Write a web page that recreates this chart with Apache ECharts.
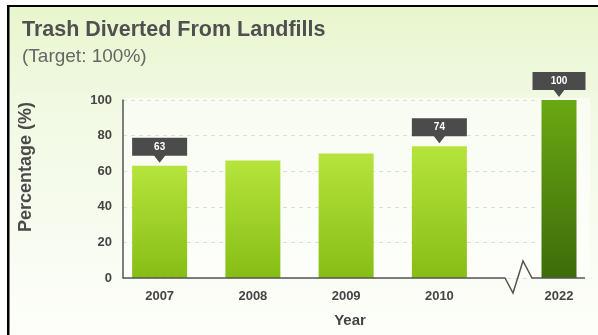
<!DOCTYPE html>
<html>
<head>
<meta charset="utf-8">
<script src="https://cdn.jsdelivr.net/npm/echarts@6/dist/echarts.min.js"></script>
<style>
  html, body { margin: 0; padding: 0; background: #ffffff; }
  #chart { width: 598px; height: 335px; }
</style>
</head>
<body>
<div id="chart"></div>
<script>
// Recorded years and their diversion rates (%)
const recordedYears = ['2007', '2008', '2009', '2010'];
const recordedValues = [63, 66, 70, 74];
// Target year shown after the axis break
const targetYears = ['2022'];
const targetValues = [100];
// Years that carry a value callout
const calloutYears = ['2007', '2010', '2022'];
// Value axis ticks
const yMin = 0, yMax = 100, yStep = 20;

const FONT = '"Liberation Sans", Arial, sans-serif';
const TOP = 100, H = 178;            // plot band, shared by every grid
const AXIS_X = 123, AXIS_Y = TOP + H; // origin of the drawn axes

const labelStyle = { color: '#454545', fontWeight: 'bold', fontSize: 13, fontFamily: FONT };

const recordedFill = new echarts.graphic.LinearGradient(0, 0, 0, 1, [
  { offset: 0, color: '#b6e43c' }, { offset: 1, color: '#86be16' }
]);
const targetFill = new echarts.graphic.LinearGradient(0, 0, 0, 1, [
  { offset: 0, color: '#6aa813' }, { offset: 1, color: '#3d6b0a' }
]);

// Callout: dark box with a small pointer underneath
const calloutPath = 'path://M0,0H55V18H33L27.5,25L22,18H0Z';
function callouts(cats, vals, width) {
  return cats.map((c, i) => ({ c, v: vals[i] }))
    .filter(d => calloutYears.includes(d.c))
    .map(d => ({
      coord: [d.c, d.v],
      value: d.v,
      symbol: calloutPath,
      symbolSize: [width, 25],
      symbolOffset: [0, -15.5],
      itemStyle: { color: '#4b4b4b' },
      label: {
        show: true, position: 'inside', offset: [0, -3.5],
        color: '#ffffff', fontSize: 10, fontWeight: 'bold', fontFamily: FONT,
        formatter: '{c}'
      }
    }));
}

const chart = echarts.init(document.getElementById('chart'), null, { renderer: 'canvas' });

chart.setOption({
  animation: false,
  backgroundColor: '#ffffff',
  title: [
    { text: 'Trash Diverted From Landfills', left: 17, top: 14,
      textStyle: { color: '#505050', fontSize: 21.5, fontWeight: 'bold', fontFamily: FONT } },
    { text: '(Target: 100%)', left: 17, top: 42,
      textStyle: { color: '#666666', fontSize: 19, fontWeight: 'normal', fontFamily: FONT } }
  ],
  graphic: [
    // panel background
    { type: 'rect', z: -10, shape: { x: 9, y: 7, width: 589, height: 328 },
      style: { fill: new echarts.graphic.LinearGradient(0, 0, 0, 1, [
        { offset: 0, color: '#e8f6cd' }, { offset: 0.3, color: '#f1f9e3' }, { offset: 1, color: '#fdfefa' }
      ]) } },
    // lighter plot area
    { type: 'rect', z: -9, shape: { x: AXIS_X, y: TOP - 2, width: 467, height: H + 2 },
      style: { fill: 'rgba(255,255,255,0.55)' } },
    // frame edges
    { type: 'rect', z: 10, shape: { x: 7, y: 5, width: 591, height: 2 }, style: { fill: '#000000' } },
    { type: 'rect', z: 10, shape: { x: 7, y: 5, width: 2.5, height: 330 }, style: { fill: '#000000' } },
    // category axis with a break before the target year
    { type: 'polyline', z: 5,
      shape: { points: [[AXIS_X, AXIS_Y], [505, AXIS_Y], [513, AXIS_Y + 15], [523, AXIS_Y - 17], [532, AXIS_Y], [585, AXIS_Y]] },
      style: { stroke: '#555555', lineWidth: 1.5, fill: null } },
    // axis titles
    { type: 'text', z: 5, x: 26, y: 167, rotation: Math.PI / 2,
      style: { text: 'Percentage (%)', fill: '#4a4a4a', font: 'bold 18px ' + FONT,
        textAlign: 'center', textVerticalAlign: 'middle' } },
    { type: 'text', z: 5, x: 350, y: 321,
      style: { text: 'Year', fill: '#454545', font: 'bold 15px ' + FONT,
        textAlign: 'center', textVerticalAlign: 'middle' } }
  ],
  grid: [
    { left: AXIS_X, top: TOP, width: 412, height: H },   // value axis + gridlines
    { left: 113, top: TOP, width: 373, height: H },      // recorded years
    { left: 540, top: TOP, width: 38, height: H }        // target year
  ],
  xAxis: [
    { gridIndex: 0, type: 'value', show: false, min: 0, max: 1 },
    { gridIndex: 1, type: 'category', data: recordedYears,
      axisLine: { show: false }, axisTick: { show: false },
      axisLabel: Object.assign({ margin: 12 }, labelStyle) },
    { gridIndex: 2, type: 'category', data: targetYears,
      axisLine: { show: false }, axisTick: { show: false },
      axisLabel: Object.assign({ margin: 12 }, labelStyle) }
  ],
  yAxis: [
    { gridIndex: 0, type: 'value', min: yMin, max: yMax, interval: yStep,
      axisLine: { show: true, lineStyle: { color: '#555555', width: 1.5 } },
      axisTick: { show: false },
      axisLabel: Object.assign({ margin: 11 }, labelStyle),
      splitLine: { show: true, lineStyle: { color: '#dbe3cf', type: [4, 4], width: 1 } } },
    { gridIndex: 1, type: 'value', min: yMin, max: yMax, show: false },
    { gridIndex: 2, type: 'value', min: yMin, max: yMax, show: false }
  ],
  series: [
    { type: 'bar', xAxisIndex: 1, yAxisIndex: 1, data: recordedValues, barWidth: 55,
      itemStyle: { color: recordedFill },
      markPoint: { silent: true, data: callouts(recordedYears, recordedValues, 55) } },
    { type: 'bar', xAxisIndex: 2, yAxisIndex: 2, data: targetValues, barWidth: 35,
      itemStyle: { color: targetFill },
      markPoint: { silent: true, data: callouts(targetYears, targetValues, 53) } }
  ]
});
</script>
</body>
</html>
